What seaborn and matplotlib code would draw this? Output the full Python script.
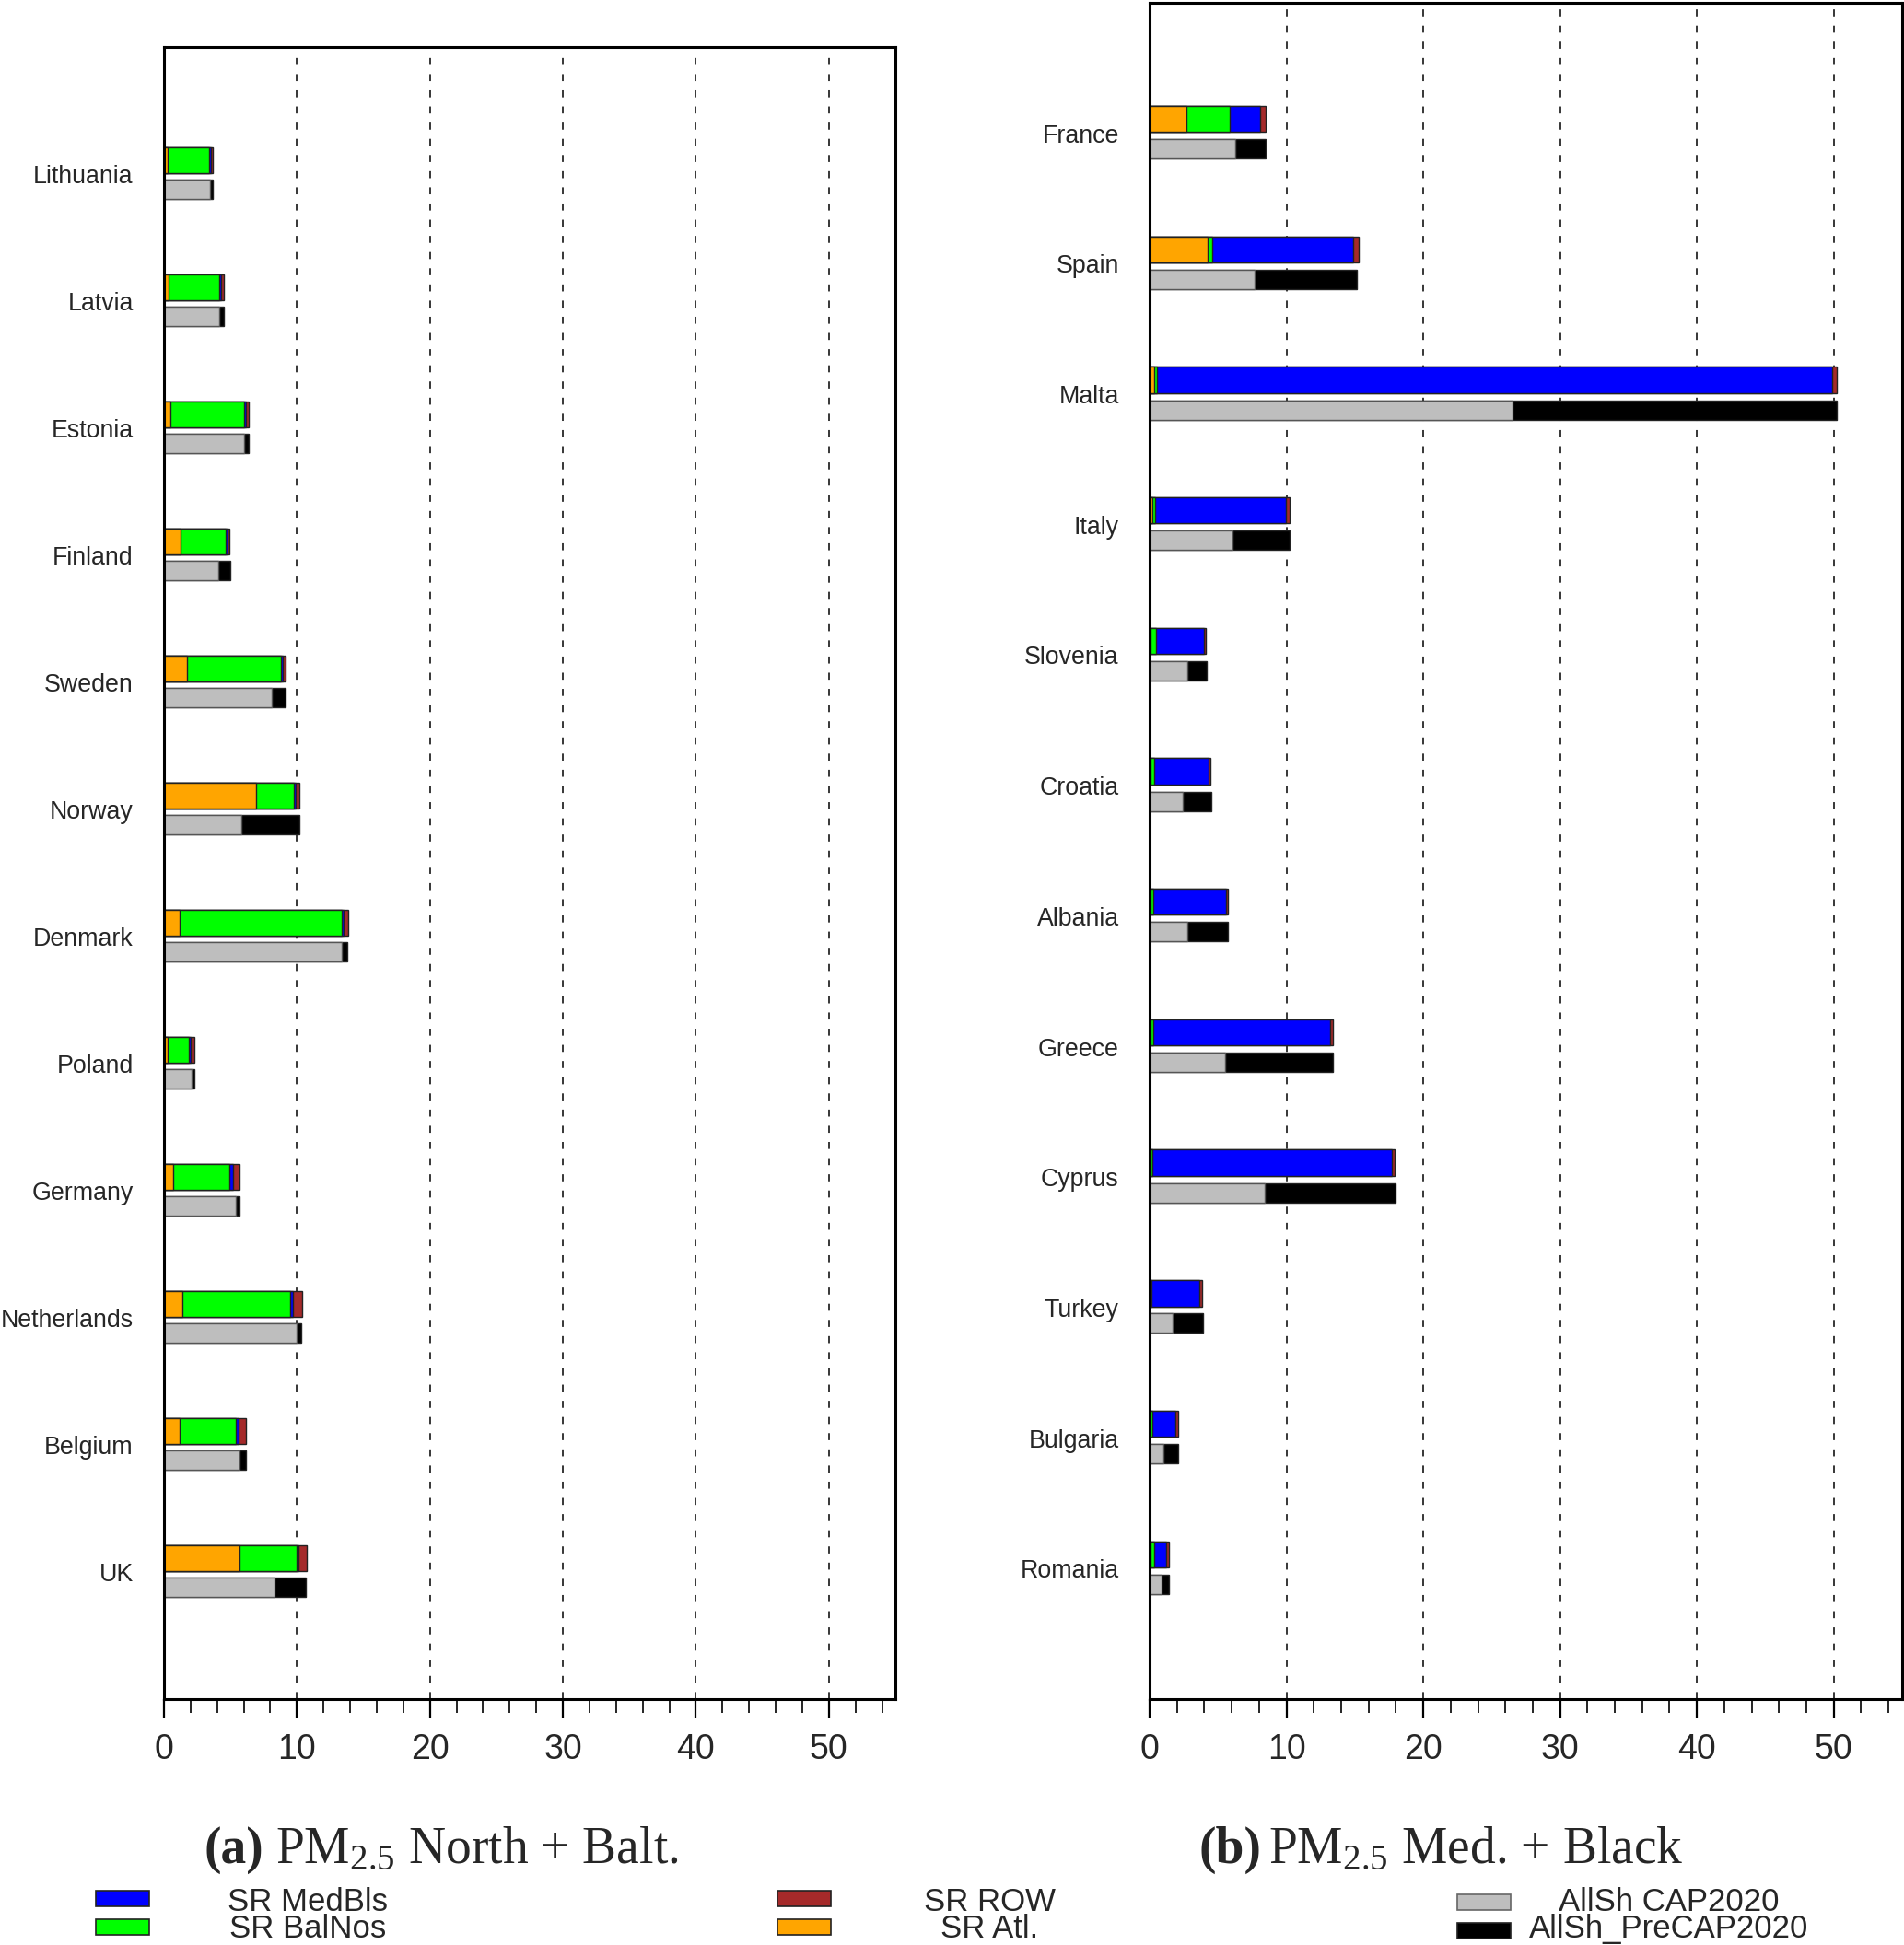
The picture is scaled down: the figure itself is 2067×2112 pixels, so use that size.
import numpy as np
import pandas as pd
import matplotlib
matplotlib.use("Agg")
import matplotlib.pyplot as plt
import seaborn as sns
from matplotlib.patches import Rectangle
from matplotlib.ticker import MultipleLocator

# ---- data, panel (a) PM2.5 North + Balt.
north_countries = ["Lithuania", "Latvia", "Estonia", "Finland", "Sweden", "Norway",
                   "Denmark", "Poland", "Germany", "Netherlands", "Belgium", "UK"]
north_atl = [0.28, 0.37, 0.46, 1.27, 1.70, 6.91, 1.15, 0.25, 0.69, 1.40, 1.17, 5.66]
north_balnos = [3.08, 3.82, 5.60, 3.38, 7.10, 2.88, 12.25, 1.64, 4.25, 8.09, 4.21, 4.32]
north_medbls = [0.15, 0.10, 0.10, 0.10, 0.12, 0.12, 0.10, 0.12, 0.23, 0.21, 0.21, 0.14]
north_row = [0.19, 0.18, 0.18, 0.18, 0.25, 0.27, 0.36, 0.27, 0.53, 0.67, 0.59, 0.59]
north_cap2020 = [3.46, 4.19, 6.01, 4.08, 8.09, 5.83, 13.40, 2.09, 5.38, 9.98, 5.66, 8.30]
north_precap = [0.23, 0.30, 0.35, 0.92, 1.08, 4.35, 0.40, 0.23, 0.32, 0.36, 0.52, 2.39]

# ---- data, panel (b) PM2.5 Med. + Black
med_countries = ["France", "Spain", "Malta", "Italy", "Slovenia", "Croatia",
                 "Albania", "Greece", "Cyprus", "Turkey", "Bulgaria", "Romania"]
med_atl = [2.70, 4.24, 0.32, 0.18, 0.05, 0.05, 0.05, 0.05, 0.04, 0.03, 0.03, 0.05]
med_balnos = [3.19, 0.36, 0.20, 0.22, 0.40, 0.31, 0.22, 0.22, 0.18, 0.10, 0.15, 0.28]
med_medbls = [2.19, 10.31, 49.37, 9.56, 3.52, 3.97, 5.29, 12.90, 17.46, 3.51, 1.72, 0.90]
med_row = [0.40, 0.34, 0.30, 0.26, 0.16, 0.13, 0.15, 0.20, 0.24, 0.20, 0.18, 0.17]
med_cap2020 = [6.23, 7.68, 26.50, 6.07, 2.77, 2.43, 2.79, 5.49, 8.39, 1.70, 1.03, 0.89]
med_precap = [2.27, 7.45, 23.70, 4.18, 1.38, 2.06, 2.95, 7.90, 9.56, 2.18, 1.07, 0.54]

colors = {"MedBls": "#0000ff", "BalNos": "#00ff00", "ROW": "#a52a2a",
          "Atl": "#ffa500", "CAP2020": "#bebebe", "PreCAP2020": "#000000"}

W, H = 2067, 2112

sns.set_style("white")
plt.rcParams["font.family"] = ["Liberation Sans", "DejaVu Sans"]
plt.rcParams["mathtext.fontset"] = "custom"
plt.rcParams["mathtext.rm"] = "Liberation Serif"
plt.rcParams["mathtext.it"] = "Liberation Serif:italic"
plt.rcParams["mathtext.bf"] = "Liberation Serif:bold"

fig = plt.figure(figsize=(W / 100, H / 100), dpi=100)


def px_axes(left, top, right, bottom):
    return fig.add_axes([left / W, 1 - bottom / H, (right - left) / W, (bottom - top) / H])


def draw_panel(ax, countries, atl, bal, med, row, cap, pre):
    pos = np.arange(1, len(countries) + 1)
    atl, bal, med, row = map(np.array, (atl, bal, med, row))
    cap, pre = np.array(cap), np.array(pre)
    # stacked SR bar: draw cumulative totals, longest first
    sr_layers = [(atl + bal + med + row, colors["ROW"]),
                 (atl + bal + med, colors["MedBls"]),
                 (atl + bal, colors["BalNos"]),
                 (atl, colors["Atl"])]
    for cum, col in sr_layers:
        df = pd.DataFrame({"value": cum, "pos": pos - 0.11})
        sns.barplot(data=df, x="value", y="pos", orient="y", native_scale=True,
                    width=0.2, color=col, saturation=1, edgecolor="#222222",
                    linewidth=1.0, errorbar=None, ax=ax)
    # AllSh bar
    for cum, col, ec in [(cap + pre, colors["PreCAP2020"], "#222222"),
                         (cap, colors["CAP2020"], "#555555")]:
        df = pd.DataFrame({"value": cum, "pos": pos + 0.12})
        sns.barplot(data=df, x="value", y="pos", orient="y", native_scale=True,
                    width=0.148, color=col, saturation=1, edgecolor=ec,
                    linewidth=1.0, errorbar=None, ax=ax)

    ax.set_xlim(0, 55)
    ax.set_ylim(13, 0)
    ax.set_yticks(pos)
    ax.set_yticklabels(countries)
    ax.set_xlabel("")
    ax.set_ylabel("")
    ax.xaxis.set_major_locator(MultipleLocator(10))
    ax.xaxis.set_minor_locator(MultipleLocator(2))
    ax.set_axisbelow(True)
    ax.xaxis.grid(True, which="major", color="black", linewidth=1.1,
                  linestyle=(0, (5, 6.5)))
    ax.yaxis.grid(False)
    ax.tick_params(axis="y", length=0, pad=24, labelsize=19.3)
    ax.tick_params(axis="x", which="major", direction="out", length=15, width=1.6,
                   labelsize=27, pad=12, bottom=True, color="black")
    ax.tick_params(axis="x", which="minor", direction="out", length=11, width=1.2,
                   bottom=True, color="black")
    for sp in ax.spines.values():
        sp.set_visible(True)
        sp.set_color("black")
        sp.set_linewidth(2.2)


ax_a = px_axes(178, 51, 972, 1845)
draw_panel(ax_a, north_countries, north_atl, north_balnos, north_medbls,
           north_row, north_cap2020, north_precap)

ax_b = px_axes(1248, 3, 2065, 1845)
draw_panel(ax_b, med_countries, med_atl, med_balnos, med_medbls,
           med_row, med_cap2020, med_precap)

# captions
cap_kw = dict(fontsize=40, family=["Liberation Serif", "DejaVu Serif"], va="baseline")
fig.text(222 / W, 1 - 2023 / H, "(a)", fontweight="bold", **cap_kw)
fig.text(299 / W, 1 - 2023 / H, r"PM$_{2.5}$ North + Balt.", **cap_kw)
fig.text(1302 / W, 1 - 2023 / H, "(b)", fontweight="bold", **cap_kw)
fig.text(1377 / W, 1 - 2023 / H, r"PM$_{2.5}$ Med. + Black", **cap_kw)

# legend
legend_items = [
    ("SR MedBls", colors["MedBls"], 104, 334, 0, 0),
    ("SR BalNos", colors["BalNos"], 104, 334, 1, 0),
    ("SR ROW", colors["ROW"], 844, 1074, 0, 0),
    ("SR Atl.", colors["Atl"], 844, 1074, 1, 0),
    ("AllSh CAP2020", colors["CAP2020"], 1582, 1812, 0, 4),
    ("AllSh_PreCAP2020", colors["PreCAP2020"], 1582, 1812, 1, 4),
]
for label, col, px, tx, r, dy in legend_items:
    top = 2053 + r * 31 + dy
    ec = "#666666" if label == "AllSh CAP2020" else "#222222"
    fig.patches.append(Rectangle((px / W, 1 - (top + 16.5) / H), 58 / W, 16.5 / H,
                                 transform=fig.transFigure, facecolor=col,
                                 edgecolor=ec, linewidth=1.2))
    base = 2075 + r * 29
    fig.text(tx / W, 1 - base / H, label, ha="center", va="baseline", fontsize=25)

fig.savefig("out.png", dpi=100)
